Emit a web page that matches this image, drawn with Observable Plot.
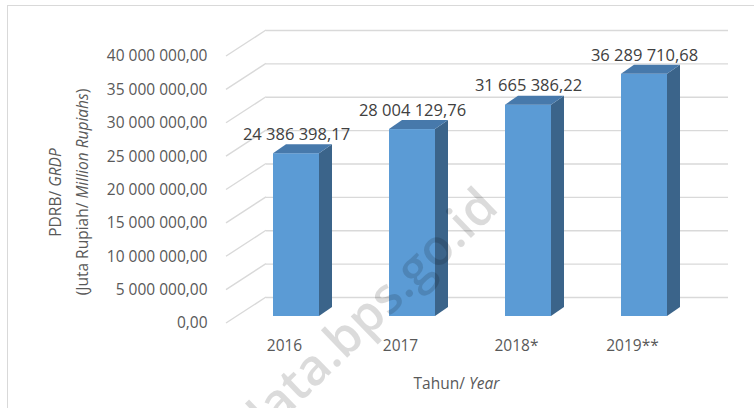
<!DOCTYPE html>
<html>
<head>
<meta charset="utf-8">
<script src="https://cdn.jsdelivr.net/npm/d3@7"></script>
<script src="https://cdn.jsdelivr.net/npm/@observablehq/plot@0.6"></script>
<style>
  html, body { margin: 0; padding: 0; background: #fff; overflow: hidden; }
  #wrap { position: relative; width: 754px; height: 408px; overflow: hidden; font-family: "Open Sans", sans-serif; }
  #border { position: absolute; left: 7px; top: 5px; width: 800px; height: 500px; border: 1px solid #d9d9d9; box-sizing: border-box; }
  #chart { position: absolute; left: 0; top: 0; }
</style>
</head>
<body>
<div id="wrap"><div id="border"></div><div id="chart"></div></div>
<script>
// ---- data ----
const years = ["2016", "2017", "2018*", "2019**"];
const values = [24386398.17, 28004129.76, 31665386.22, 36289710.68];
const yTicks = [0, 5000000, 10000000, 15000000, 20000000, 25000000, 30000000, 35000000, 40000000];
const xTitle = ["Tahun/ ", "Year"];
const yTitle1 = ["PDRB/ ", "GRDP"];
const yTitle2 = ["(Juta Rupiah/ ", "Million Rupiahs", ")"];
const watermark = ["data.bps.go.id"];

const data = years.map((year, i) => ({year, value: values[i]}));
const fmt = d3.formatLocale({decimal: ",", thousands: " ", grouping: [3], currency: ["", ""]}).format(",.2f");

const FRONT = "#5b9bd5", SIDE = "#3b648a", TOP = "#4779ab", GRID = "#d9d9d9", TXT = "#595959";
const DX = 13, DY = -9; // bar depth

function bw(s) { return typeof s.bandwidth === "function" ? s.bandwidth() : s.bandwidth; }

const chart = Plot.plot({
  width: 754,
  height: 408,
  marginLeft: 238,
  marginRight: 52,
  marginTop: 49,
  marginBottom: 92,
  style: {fontFamily: "'Open Sans', sans-serif", background: "transparent", overflow: "visible"},
  x: {type: "band", domain: years, paddingInner: 0.6, paddingOuter: 0.3, align: 0.5},
  y: {domain: [0, 40000000]},
  marks: [
    // back wall gridlines
    Plot.ruleY(yTicks, {dy: -19, insetLeft: 28, insetRight: -26, stroke: GRID, strokeWidth: 1.4}),
    // side wall diagonals
    Plot.ruleY(yTicks, {
      render: (I, scales, vals, dims) => {
        const g = d3.create("svg:g");
        for (const i of I) {
          const y = scales.y(yTicks[i]);
          g.append("line")
            .attr("x1", dims.marginLeft - 12).attr("y1", y + 7)
            .attr("x2", dims.marginLeft + 28).attr("y2", y - 19)
            .attr("stroke", GRID).attr("stroke-width", 1.4);
        }
        return g.node();
      }
    }),
    // front faces
    Plot.barY(data, {x: "year", y: "value", fill: FRONT}),
    // side and top faces
    Plot.barY(data, {
      x: "year", y: "value",
      render: (I, scales, vals, dims) => {
        const g = d3.create("svg:g");
        const w = bw(scales.x);
        for (const i of I) {
          const x0 = scales.x(data[i].year), x1 = x0 + w;
          const yt = scales.y(data[i].value), yb = scales.y(0);
          g.append("polygon").attr("fill", SIDE)
            .attr("points", [[x1, yt], [x1 + DX, yt + DY], [x1 + DX, yb + DY], [x1, yb]].join(" "));
          g.append("polygon").attr("fill", TOP)
            .attr("points", [[x0, yt], [x0 + DX, yt + DY], [x1 + DX, yt + DY], [x1, yt]].join(" "));
        }
        return g.node();
      }
    }),
    // value labels
    Plot.text(data, {x: "year", y: "value", text: d => fmt(d.value), dy: -19, fontSize: 16.5, fill: "#404040"}),
    // axes
    Plot.axisY(yTicks, {tickSize: 0, tickPadding: 31, dy: 7, tickFormat: fmt, fontSize: 15.5, fill: TXT, label: null}),
    Plot.axisX({tickSize: 0, tickPadding: 23, dx: -12, fontSize: 15.5, fill: TXT, label: null}),
    // axis titles
    Plot.text([xTitle.join("")], {frameAnchor: "bottom", textAnchor: "middle", dx: -14, dy: 72, fontSize: 15.5, fill: TXT}),
    Plot.text([yTitle1.join("")], {frameAnchor: "left", textAnchor: "middle", rotate: -90, dx: -182, dy: 9.5, fontSize: 15.5, fill: TXT}),
    Plot.text([yTitle2.join("")], {frameAnchor: "left", textAnchor: "middle", rotate: -90, dx: -155, dy: 9, fontSize: 15.5, fill: TXT}),
    // watermark
    Plot.text(watermark, {frameAnchor: "bottom-left", textAnchor: "end", rotate: -44, dx: 262, dy: -107, fontSize: 50, fontWeight: 600, fill: "#000", fillOpacity: 0.14})
  ]
});

document.getElementById("chart").appendChild(chart);

// italic parts of mixed-style titles
function styleTitle(parts, italicIdx) {
  const full = parts.join("");
  for (const t of chart.querySelectorAll("text")) {
    if (t.textContent === full && t.children.length === 0) {
      t.textContent = "";
      parts.forEach((p, i) => {
        const ts = document.createElementNS("http://www.w3.org/2000/svg", "tspan");
        ts.textContent = p;
        if (italicIdx.includes(i)) ts.setAttribute("font-style", "italic");
        t.appendChild(ts);
      });
    }
  }
}
styleTitle(xTitle, [1]);
styleTitle(yTitle1, [1]);
styleTitle(yTitle2, [1]);
</script>
</body>
</html>
